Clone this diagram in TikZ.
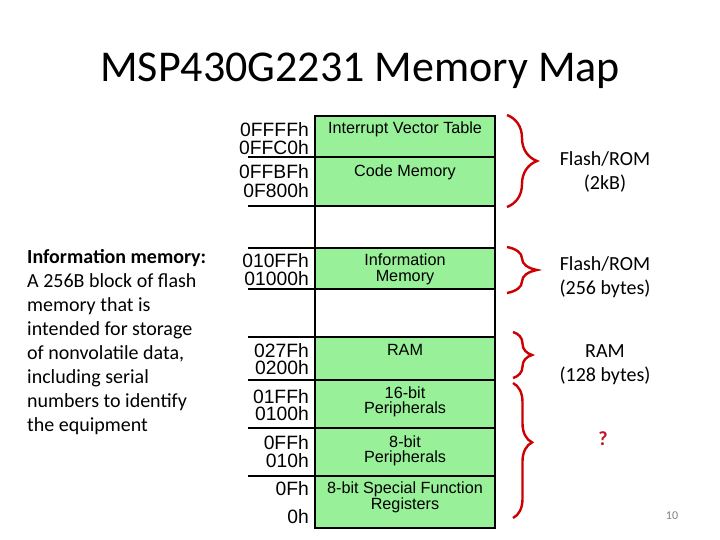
\documentclass[tikz,border=0pt]{standalone}
\usepackage{fontspec}
\setmainfont{Carlito}
\newfontfamily\arialfont{Liberation Sans}
\usepackage{tikz}
\usetikzlibrary{decorations.pathreplacing}
\definecolor{memgreen}{RGB}{152,240,152}
\definecolor{bracered}{RGB}{204,0,0}
\definecolor{qred}{RGB}{190,20,40}
\definecolor{pagegray}{RGB}{130,130,130}

\begin{document}
\begin{tikzpicture}
    [x=1pt, y=-1pt,
    heading/.style={font=\fontsize{44}{53}\selectfont, anchor=base, inner sep=0pt},
    note/.style={font=\fontsize{20}{24}\selectfont, anchor=base west, inner sep=0pt},
    sizelabel/.style={font=\fontsize{20}{24}\selectfont, anchor=base, inner sep=0pt},
    addr/.style={font=\arialfont\fontsize{19.3}{22}\selectfont, anchor=base east, inner sep=0pt},
    area/.style={font=\arialfont\fontsize{16.2}{18}\selectfont, anchor=base, inner sep=0pt},
    bound/.style={line width=1.6pt},
    bracket/.style={draw=bracered, line width=2.4pt, decorate,
      decoration={brace, amplitude=#1}}]
  \useasboundingbox (0,0) rectangle (720,540);

  \node [heading] (title) at (360,82) {MSP430G2231 Memory Map};

  \foreach \t/\b in {116/206, 248/289, 337/528}
    \fill [memgreen] (315,\t) rectangle (495,\b);
  \foreach \y in {157,206,248,289,337,380,428,476}
    \draw [bound] (248,\y) -- (495,\y);
  \draw [bound] (315,116) rectangle (495,528);

  \node [area] (ivt) at (405,134) {Interrupt Vector Table};
  \node [area] (code) at (405,177) {Code Memory};
  \node [area] (info1) at (405,265) {Information};
  \node [area] (info2) at (405,281) {Memory};
  \node [area] (ram) at (405,355) {RAM};
  \node [area] (p16a) at (405,398) {16-bit};
  \node [area] (p16b) at (405,413) {Peripherals};
  \node [area] (p8a) at (405,447) {8-bit};
  \node [area] (p8b) at (405,462) {Peripherals};
  \node [area] (sfr1) at (405,493) {8-bit Special Function};
  \node [area] (sfr2) at (405,509) {Registers};

  \node [addr] (a1) at (309,137) {0FFFFh};
  \node [addr] (a2) at (309,155) {0FFC0h};
  \node [addr] (a3) at (309,179) {0FFBFh};
  \node [addr] (a4) at (309,198) {0F800h};
  \node [addr] (a5) at (309,267) {010FFh};
  \node [addr] (a6) at (309,285) {01000h};
  \node [addr] (a7) at (309,357) {027Fh};
  \node [addr] (a8) at (309,374) {0200h};
  \node [addr] (a9) at (309,403) {01FFh};
  \node [addr] (a10) at (309,420) {0100h};
  \node [addr] (a11) at (309,449) {0FFh};
  \node [addr] (a12) at (309,467) {010h};
  \node [addr] (a13) at (309,495) {0Fh};
  \node [addr] (a14) at (309,523) {0h};

  \node [note] (n1) at (27,263) {\textbf{Information memory:}};
  \node [note] (n2) at (27,287) {A 256B block of flash};
  \node [note] (n3) at (27,311) {memory that is};
  \node [note] (n4) at (27,335) {intended for storage};
  \node [note] (n5) at (27,359) {of nonvolatile data,};
  \node [note] (n6) at (27,383) {including serial};
  \node [note] (n7) at (27,407) {numbers to identify};
  \node [note] (n8) at (27,431) {the equipment};

  \coordinate (flashtop) at (507,115);
  \coordinate (flashbot) at (507,207);
  \coordinate (infotop) at (507,247);
  \coordinate (infobot) at (507,293);
  \coordinate (ramtop) at (513,332);
  \coordinate (rambot) at (513,378);
  \coordinate (periphtop) at (513,383);
  \coordinate (periphbot) at (513,518);
  \draw [bracket=30] (flashtop) -- (flashbot);
  \draw [bracket=30] (infotop) -- (infobot);
  \draw [bracket=19] (ramtop) -- (rambot);
  \draw [bracket=19, decoration={aspect=0.44}] (periphtop) -- (periphbot);

  \node [sizelabel] (flash1) at (605,166) {Flash/ROM};
  \node [sizelabel] (flash2) at (605,190) {(2kB)};
  \node [sizelabel] (infosz1) at (605,270) {Flash/ROM};
  \node [sizelabel] (infosz2) at (605,294) {(256 bytes)};
  \node [sizelabel] (ramsz1) at (605,357) {RAM};
  \node [sizelabel] (ramsz2) at (605,381) {(128 bytes)};
  \node [sizelabel, text=qred, font=\fontsize{20}{24}\selectfont\bfseries] (unknown) at (603,445) {?};
  \node [sizelabel, text=pagegray, font=\fontsize{12}{14}\selectfont] (page) at (672,519) {10};
\end{tikzpicture}
\end{document}
